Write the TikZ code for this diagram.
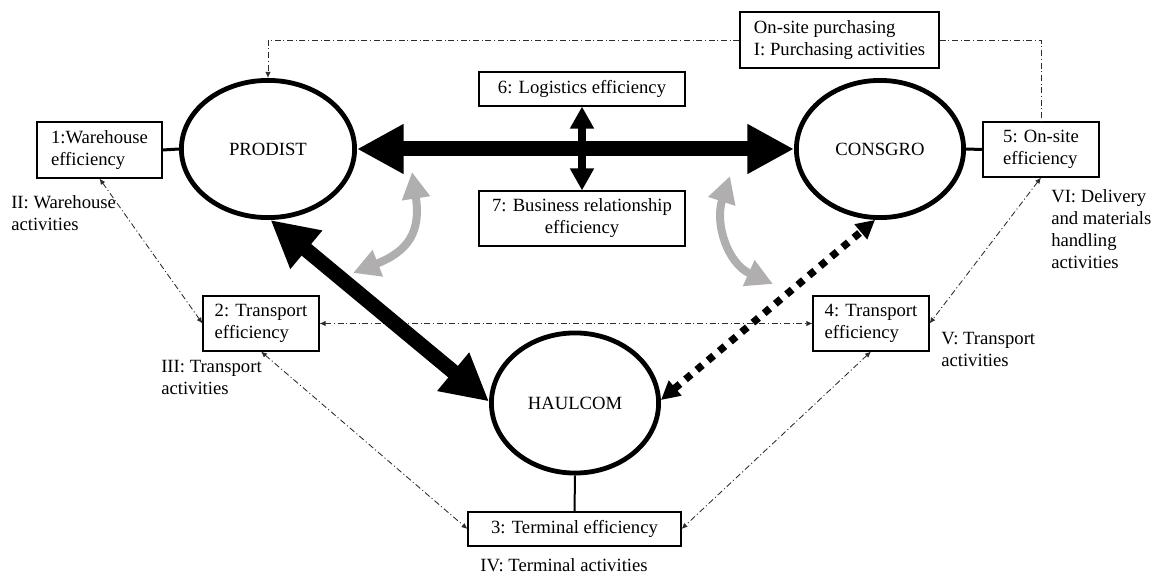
\documentclass[tikz,border=0pt]{standalone}
\usepackage{fontspec}
\setmainfont{Liberation Serif}
\usetikzlibrary{arrows.meta,shapes.geometric}
\definecolor{grayarrow}{RGB}{176,174,174}
\definecolor{thinline}{RGB}{45,45,45}
\begin{document}
\begin{tikzpicture}[x=0.75pt,y=-0.75pt,
  font=\fontsize{14}{16.5}\selectfont,
  box/.style={draw, line width=0.8pt, align=left, inner sep=0pt},
  ent/.style={draw, ellipse, line width=3.6pt, inner sep=0pt, minimum height=102.9pt},
  lab/.style={align=left, inner sep=0pt, anchor=west},
  dashdot/.style={draw=thinline, line width=0.65pt, dash pattern=on 4.5pt off 2pt on 0.8pt off 2pt},
  dd/.style={dashdot, {Latex[length=4.5pt,width=4pt]}-{Latex[length=4.5pt,width=4pt]}},
  bigarrow/.style={line width=11.25pt, {Triangle[length=35pt,width=35pt]}-{Triangle[length=35pt,width=35pt]}},
  midarrow/.style={line width=6pt, {Triangle[length=16.5pt,width=17pt]}-{Triangle[length=16.5pt,width=17pt]}},
  dotarrow/.style={line width=5.5pt, dash pattern=on 5.5pt off 5.5pt, {Triangle[length=14pt,width=14pt]}-{Triangle[length=14pt,width=14pt]}},
  grayarr/.style={draw=grayarrow, line width=6pt, {Triangle[length=20pt,width=20pt]}-{Triangle[length=20pt,width=20pt]}},
  link/.style={line width=2.25pt}
]
\useasboundingbox (0,0) rectangle (1159,574);

% entities
\node[ent, minimum width=129.9pt] (prodist) at (268,149) {PRODIST};
\node[ent, minimum width=125.4pt] (consgro) at (880,149) {CONSGRO};
\node[ent, minimum width=125.4pt, minimum height=105.1pt] (haulcom) at (575,403) {HAULCOM};

% boxes
\node[box, minimum width=149.25pt, minimum height=42pt] (pur) at (839.5,40) {On-site purchasing\\I: Purchasing activities};
\node[box, minimum width=93.75pt, minimum height=42pt] (b1) at (99.5,150) {1:Warehouse\\efficiency};
\node[box, minimum width=87pt, minimum height=41.25pt] (b2) at (261,323.5) {2: Transport\\efficiency};
\node[box, minimum width=159.75pt, minimum height=25.5pt] (b3) at (574.5,529) {3: Terminal efficiency};
\node[box, minimum width=87pt, minimum height=41.25pt] (b4) at (871,323.5) {4: Transport\\efficiency};
\node[box, minimum width=87pt, minimum height=41.25pt] (b5) at (1041,149.5) {5: On-site\\efficiency};
\node[box, minimum width=154.5pt, minimum height=25.5pt] (b6) at (582,89) {6: Logistics efficiency};
\node[box, align=center, minimum width=154.5pt, minimum height=41.25pt] (b7) at (582,218.5) {7: Business relationship\\efficiency};

% labels
\node[lab] (l2) at (11,213) {II: Warehouse\\activities};
\node[lab] (l3) at (161,377) {III: Transport\\activities};
\node[inner sep=0pt] (l4) at (564,565) {IV: Terminal activities};
\node[lab] (l5) at (941,349) {V: Transport\\activities};
\node[lab] (l6) at (1051,229.5) {VI: Delivery\\and materials\\handling\\activities};

% solid links
\draw[link] (b1.east) -- (prodist.west);
\draw[link] (consgro.east) -- (b5.west);
\draw[line width=1.5pt] (haulcom.south) -- (b3.north);

% dash-dot connectors
\draw[dashdot, -{Latex[length=4.5pt,width=4pt]}] (pur.west) -| (prodist.north);
\draw[dashdot] (pur.east) -| (b5.north);
\draw[dd] (b1.south) -- (b2.west);
\draw[dd] (b2.east) -- (b4.west);
\draw[dd] (b2.south) -- (b3.west);
\draw[dd] (b4.south) -- (b3.east);
\draw[dd] (b5.south) -- (b4.east);

% gray curved arrows
\coordinate (ga1) at (353,273);
\coordinate (ga2) at (412,172);
\coordinate (gb1) at (730,176);
\coordinate (gb2) at (773,284);
\draw[grayarr] (ga1) .. controls (409,251) and (421,231) .. (ga2);
\draw[grayarr] (gb1) .. controls (714.5,223.5) and (727.5,263.5) .. (gb2);

% main arrows
\draw[bigarrow] (prodist.east) -- (consgro.west);
\draw[bigarrow] (prodist.-88) -- (haulcom.179);
\draw[midarrow] (b6.south) -- (b7.north);
\draw[dotarrow] (haulcom.2) -- (consgro.-94);
\end{tikzpicture}
\end{document}
